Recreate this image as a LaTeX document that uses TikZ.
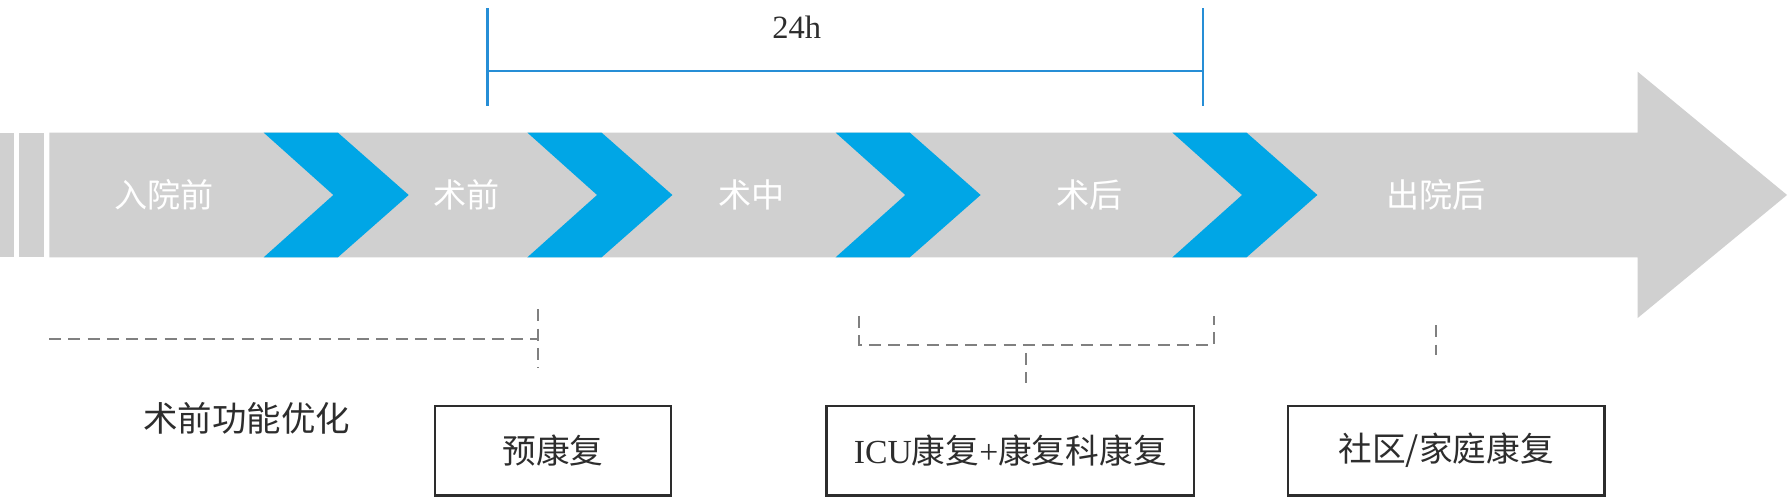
\documentclass[tikz,border=0pt]{standalone}
\usepackage{fontspec}
\setmainfont{Liberation Serif}
\newfontfamily\cjk{Noto Sans CJK SC}
\newcommand\zh[1]{{\cjk #1}}
\definecolor{barGray}{RGB}{208,208,208}
\definecolor{chevBlue}{RGB}{0,166,230}
\definecolor{lineBlue}{RGB}{38,142,214}
\definecolor{dashGray}{RGB}{128,128,128}
\definecolor{txtDark}{RGB}{45,45,45}
\tikzset{
  stage/.style={text=white, inner sep=0pt, font=\cjk\fontsize{16.5}{20}\selectfont},
  rbox/.style={draw=txtDark, line width=1.1pt, inner sep=0pt, text=txtDark,
    minimum height=1.57cm, font=\fontsize{16.8}{20}\selectfont},
  dashline/.style={draw=dashGray, line width=0.85pt, dash pattern=on 6pt off 3.6pt},
  blueline/.style={draw=lineBlue, line width=1.1pt},
  chev/.style={fill=chevBlue},
}
\begin{document}
\begin{tikzpicture}[x=0.02cm, y=-0.02cm]
\useasboundingbox (0,0) rectangle (1568,439);
% grey timeline arrow
\fill[barGray] (0,116.2) rectangle (12.3,225.4);
\fill[barGray] (16.6,116.2) rectangle (38.8,225.4);
\fill[barGray] (43.2,116.2) -- (1434.5,116.2) -- (1434.5,62.8) -- (1565.4,170.8)
  -- (1434.5,278.6) -- (1434.5,225.4) -- (43.2,225.4) -- cycle;
% chevrons
\foreach \t in {231,462,732,1027}{
  \fill[chev] (\t,116.2) -- (\t+65,116.2) -- (\t+127,170.8) -- (\t+65,225.4)
    -- (\t,225.4) -- (\t+61,170.8) -- cycle;
}
% stage labels
\node[stage] (s1) at (144,171) {入院前};
\node[stage] (s2) at (409,171) {术前};
\node[stage] (s3) at (658,171) {术中};
\node[stage] (s4) at (954.5,171) {术后};
\node[stage] (s5) at (1258,171) {出院后};
% 24h bracket
\coordinate (bl1) at (427,7.3);
\coordinate (bl2) at (427,93);
\coordinate (br1) at (1054,7.3);
\coordinate (br2) at (1054,93);
\coordinate (bm1) at (427,62.2);
\coordinate (bm2) at (1054,62.2);
\draw[blueline] (bl1) -- (bl2);
\draw[blueline] (br1) -- (br2);
\draw[blueline] (bm1) -- (bm2);
\node[anchor=base, inner sep=0pt, text=txtDark, font=\fontsize{16.2}{18}\selectfont] (h24) at (698,33.6) {24h};
% dashed markers
\coordinate (pa) at (43,297);
\coordinate (pb) at (471,297);
\coordinate (pc) at (471,271);
\coordinate (pd) at (471,322);
\draw[dashline] (pa) -- (pb);
\draw[dashline] (pc) -- (pd);
\coordinate (qa) at (752.7,276.8);
\coordinate (qb) at (752.7,302.2);
\coordinate (qc) at (1063.6,302.2);
\coordinate (qd) at (1063.6,276.8);
\coordinate (qe) at (899,309);
\coordinate (qf) at (899,335.6);
\draw[dashline] (qa) -- (qb) -- (qc) -- (qd);
\draw[dashline] (qe) -- (qf);
\coordinate (ra) at (1258,285);
\coordinate (rb) at (1258,311);
\draw[dashline] (ra) -- (rb);
% bottom labels
\node[inner sep=0pt, text=txtDark, font=\cjk\fontsize{17.2}{20}\selectfont] (opt) at (216,366) {术前功能优化};
\node[rbox, minimum width=4.14cm] (b1) at (484.5,394.75) {\zh{预康复}};
\node[rbox, minimum width=6.44cm] (b2) at (885,394.75) {ICU\zh{康复}+\zh{康复科康复}};
\node[rbox, minimum width=5.55cm] (b3) at (1266.75,394.75) {\zh{社区/家庭康复}};
\end{tikzpicture}
\end{document}
